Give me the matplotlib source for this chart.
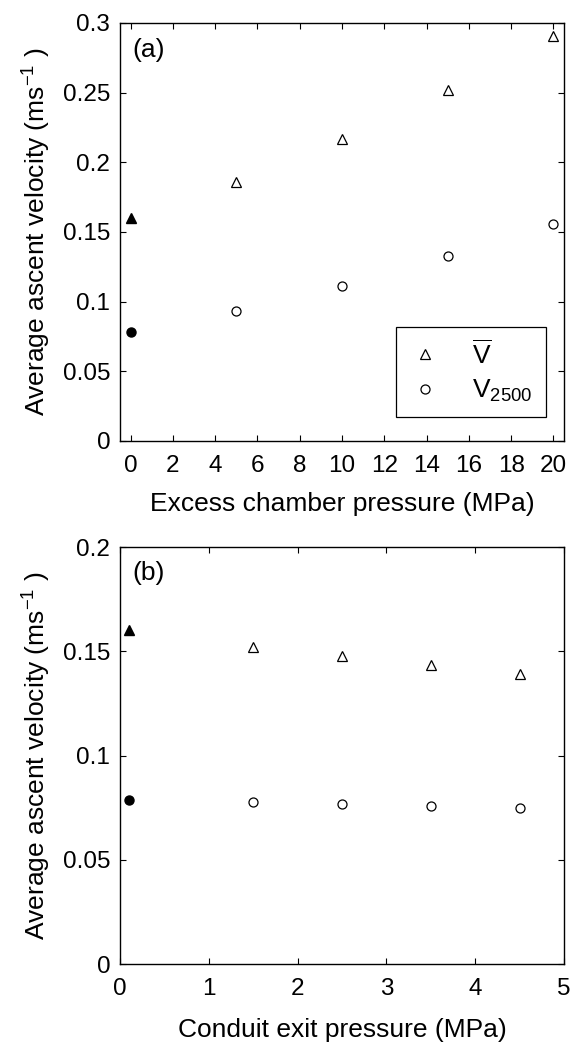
import matplotlib
matplotlib.use("Agg")
import matplotlib.pyplot as plt

plt.rcParams['font.family'] = ['Liberation Sans', 'DejaVu Sans']
plt.rcParams['mathtext.fontset'] = 'custom'
plt.rcParams['mathtext.rm'] = 'Liberation Sans'
plt.rcParams['mathtext.it'] = 'Liberation Sans'

# (a) excess chamber pressure
p_ex = [5, 10, 15, 20]
vbar_a = [0.186, 0.217, 0.252, 0.291]
v2500_a = [0.0935, 0.1115, 0.133, 0.156]

# reference case (filled)
p_ref_a = [0]
p_ref_b = [0.1]
vbar_ref = [0.160]
v2500_ref = [0.0785]

# (b) conduit exit pressure
p_exit = [1.5, 2.5, 3.5, 4.5]
vbar_b = [0.152, 0.1476, 0.1433, 0.139]
v2500_b = [0.0776, 0.0767, 0.0757, 0.0748]

TFS = 17.5   # tick labels
LFS = 19     # axis labels
fig = plt.figure(figsize=(5.7, 10.44), dpi=100)
ax1 = fig.add_axes([0.2105, 0.5776, 0.779, 0.4004])
ax2 = fig.add_axes([0.2105, 0.0766, 0.779, 0.3994])

ms = 6.5
for ax in (ax1, ax2):
    ax.tick_params(direction='in', top=True, right=True, labelsize=TFS, length=4, width=0.8)
    ax.tick_params(axis='x', pad=10)
    ax.tick_params(axis='y', pad=7)
    for s in ax.spines.values():
        s.set_linewidth(1.0)

ax1.plot(p_ex, vbar_a, '^', mfc='white', mec='black', ms=ms, mew=0.9, clip_on=False, label=r'$\overline{V}$')
ax1.plot(p_ex, v2500_a, 'o', mfc='white', mec='black', ms=ms, mew=0.9, clip_on=False, label=r'$\mathregular{V_{2500}}$')
ax1.plot(p_ref_a, vbar_ref, '^', color='black', ms=ms)
ax1.plot(p_ref_a, v2500_ref, 'o', color='black', ms=ms)
ax1.set_xlim(-0.5, 20.5)
ax1.set_ylim(0, 0.3)
ax1.set_xticks(range(0, 21, 2))
ax1.set_yticks([0, 0.05, 0.1, 0.15, 0.2, 0.25, 0.3])
ax1.set_yticklabels(['0', '0.05', '0.1', '0.15', '0.2', '0.25', '0.3'])
ax1.set_xlabel('Excess chamber pressure (MPa)', fontsize=LFS, labelpad=11)
ax1.set_ylabel(r'Average ascent velocity (ms$^{-1}$ )', fontsize=LFS, labelpad=7)
ax1.text(0.027, 0.935, '(a)', transform=ax1.transAxes, fontsize=LFS, va='center')
leg = ax1.legend(loc='lower right', bbox_to_anchor=(0.959, 0.057), fontsize=LFS,
                 fancybox=False, framealpha=1, edgecolor='black', handlelength=1.2,
                 handletextpad=1.2, borderpad=0.5, labelspacing=0.35, borderaxespad=0)
leg.get_frame().set_linewidth(0.9)

ax2.plot(p_exit, vbar_b, '^', mfc='white', mec='black', ms=ms, mew=0.9)
ax2.plot(p_exit, v2500_b, 'o', mfc='white', mec='black', ms=ms, mew=0.9)
ax2.plot(p_ref_b, vbar_ref, '^', color='black', ms=ms)
ax2.plot(p_ref_b, v2500_ref, 'o', color='black', ms=ms)
ax2.set_xlim(0, 5)
ax2.set_ylim(0, 0.2)
ax2.set_xticks(range(0, 6))
ax2.set_yticks([0, 0.05, 0.1, 0.15, 0.2])
ax2.set_yticklabels(['0', '0.05', '0.1', '0.15', '0.2'])
ax2.set_xlabel('Conduit exit pressure (MPa)', fontsize=LFS, labelpad=13)
ax2.set_ylabel(r'Average ascent velocity (ms$^{-1}$ )', fontsize=LFS, labelpad=7)
ax2.text(0.027, 0.938, '(b)', transform=ax2.transAxes, fontsize=LFS, va='center')

fig.savefig('out.png', dpi=100)
